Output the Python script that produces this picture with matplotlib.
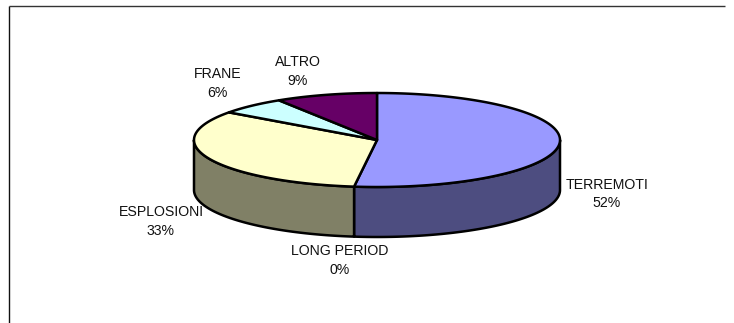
import numpy as np
import matplotlib
matplotlib.use('Agg')
import matplotlib.pyplot as plt
from matplotlib.patches import Polygon

labels = ['TERREMOTI', 'LONG PERIOD', 'ESPLOSIONI', 'FRANE', 'ALTRO']
values = [52, 0, 33, 6, 9]
top_colors = ['#9999FF', '#993366', '#FFFFCC', '#CCFFFF', '#660066']
side_colors = ['#4D4D80', '#4D1A33', '#808066', '#668080', '#330033']
label_pos = [(607, 194), (340, 260.5), (161, 221.5), (217.5, 83.5), (298, 71.5)]

cx, cy = 377, 140
rx, ry = 183, 47
depth = 50

plt.rcParams['font.family'] = ['Liberation Sans', 'DejaVu Sans']

def rim(a0, a1, drop=0):
    # angles in degrees, clockwise from the top of the ellipse
    t = np.radians(np.linspace(a0, a1, max(int(abs(a1 - a0)) * 2, 2)))
    return np.column_stack([cx + rx * np.sin(t), cy - ry * np.cos(t) + drop])

fig = plt.figure(figsize=(7.34, 3.23), dpi=100)
ax = fig.add_axes([0, 0, 1, 1])
ax.set_xlim(0, 734)
ax.set_ylim(323, 0)
ax.axis('off')

# outer frame, open on the right and bottom edges
ax.plot([9, 9], [323, 5.5], color='#111111', lw=1.0, solid_capstyle='butt')
ax.plot([9, 725], [5.5, 5.5], color='#333333', lw=1.0, solid_capstyle='butt')

edges = np.concatenate([[0], np.cumsum(values)]) / np.sum(values) * 360

# side wall, only the front half of the rim shows
for i in range(len(values)):
    a0 = max(edges[i], 90)
    a1 = min(edges[i + 1], 270)
    if a1 <= a0:
        continue
    top = rim(a0, a1)
    bottom = rim(a0, a1, depth)[::-1]
    ax.add_patch(Polygon(np.vstack([top, bottom]), closed=True, fc=side_colors[i],
                         ec='black', lw=1.8, joinstyle='round'))

# top face
for i in range(len(values)):
    if values[i] == 0:
        continue
    pts = np.vstack([[cx, cy], rim(edges[i], edges[i + 1])])
    ax.add_patch(Polygon(pts, closed=True, fc=top_colors[i], ec='black', lw=1.8,
                         joinstyle='round'))

for name, val, (x, y) in zip(labels, values, label_pos):
    ax.text(x, y, f'{name}\n{val}%', ha='center', va='center', fontsize=10.2,
            color='#111111', linespacing=1.42)

fig.savefig('out.png', dpi=100)
